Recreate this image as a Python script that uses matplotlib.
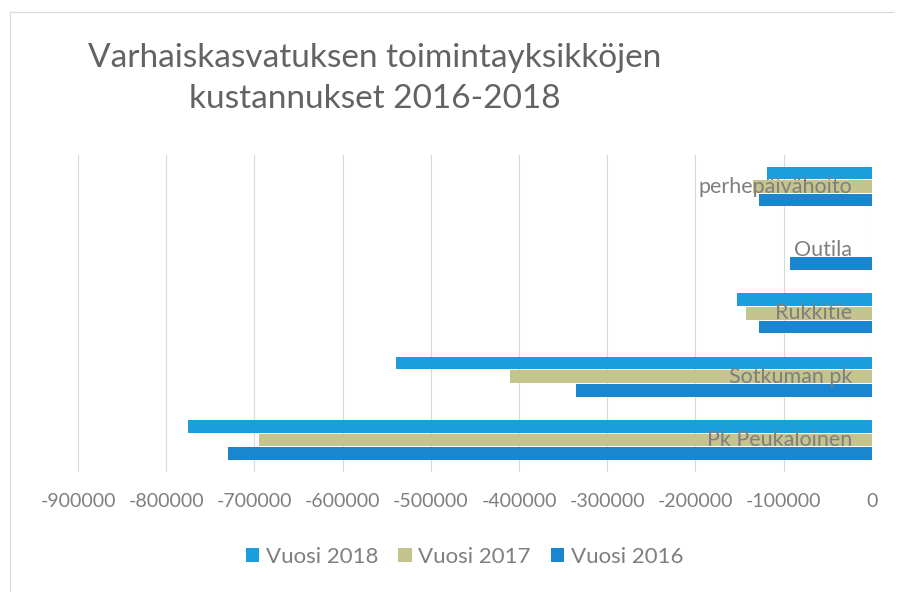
import matplotlib.pyplot as plt
import numpy as np
from matplotlib.lines import Line2D

plt.rcParams['font.family'] = ['Lato', 'DejaVu Sans']

categories = ['Pk Peukaloinen', 'Sotkuman pk', 'Rukkitie', 'Outila', 'perhepäivähoito']
vuosi_2018 = [-775000, -540000, -153000, 0, -119000]
vuosi_2017 = [-695000, -410000, -143000, 0, -135000]
vuosi_2016 = [-730000, -335000, -128000, -93000, -128000]
xticks = [-900000, -800000, -700000, -600000, -500000, -400000, -300000, -200000, -100000, 0]

col_2018 = '#1a9fdc'
col_2017 = '#c6c48e'
col_2016 = '#1b86d0'
grey = '#7f7f7f'

fig = plt.figure(figsize=(8.97, 5.92), dpi=100)
ax = fig.add_axes([0.087, 0.203, 0.885, 0.5355])

y = np.arange(len(categories))
h = 0.2
off = 0.215
b18 = ax.barh(y + off, vuosi_2018, height=h, color=col_2018, label='Vuosi 2018', zorder=2)
b17 = ax.barh(y, vuosi_2017, height=h, color=col_2017, label='Vuosi 2017', zorder=2)
b16 = ax.barh(y - off, vuosi_2016, height=h, color=col_2016, label='Vuosi 2016', zorder=2)

# category names shown as data labels near the zero end
for yi, name in zip(y, categories):
    ax.text(-22000, yi, name, ha='right', va='center', fontsize=15.5, color=grey, zorder=3)

ax.set_xlim(-900000, 0)
ax.set_ylim(-0.5, 4.5)
ax.set_xticks(xticks)
ax.set_xticklabels([str(v) for v in xticks], fontsize=14, color=grey)
ax.tick_params(axis='x', length=0, pad=15)
ax.set_yticks([])
ax.xaxis.grid(True, color='#d9d9d9', linewidth=0.8, zorder=0)
for s in ax.spines.values():
    s.set_visible(False)

fig.text(0.418, 0.868, 'Varhaiskasvatuksen toimintayksikköjen\nkustannukset 2016-2018',
         ha='center', va='center', fontsize=24, color='#636363', linespacing=1.45)

fig.legend(handles=[b18, b17, b16], loc='center', bbox_to_anchor=(0.518, 0.059), ncol=3,
           frameon=False, fontsize=16, labelcolor=grey, handlelength=0.6, handleheight=0.6,
           columnspacing=0.9, handletextpad=0.3)

# faint frame of the chart area (top and left edges)
fig.add_artist(Line2D([0.011, 0.995], [0.98, 0.98], transform=fig.transFigure,
                      color='#d9d9d9', linewidth=0.8))
fig.add_artist(Line2D([0.011, 0.011], [0.0, 0.98], transform=fig.transFigure,
                      color='#d9d9d9', linewidth=0.8))

fig.savefig('out.png', dpi=100)
